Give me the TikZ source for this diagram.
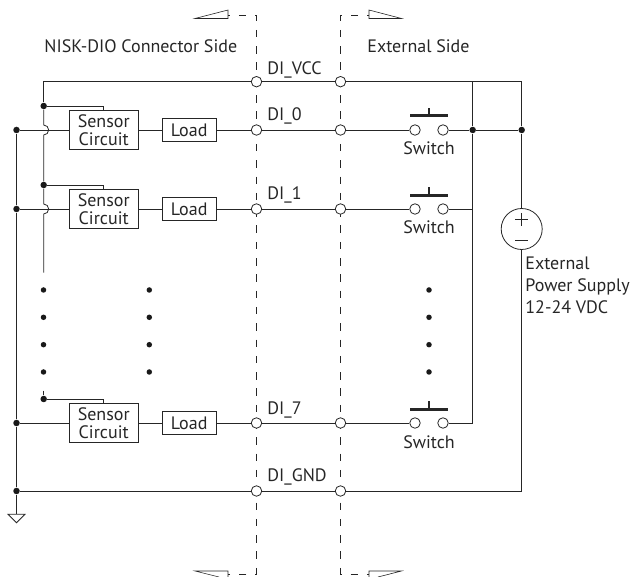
\documentclass[tikz,border=0pt]{standalone}
\usepackage{fontspec}
\setmainfont{PT Sans}

\begin{document}
\begin{tikzpicture}[x=1pt,y=-1pt,line width=0.8pt,color=black!85,font=\fontsize{18}{17.5}\selectfont]
  \tikzstyle{pin}=[circle,draw,fill=white,inner sep=0pt,minimum size=10.5pt]
  \tikzstyle{junction}=[circle,fill=black!90,inner sep=0pt,minimum size=6.5pt]
  \tikzstyle{ellipsis}=[circle,fill=black!90,inner sep=0pt,minimum size=5.5pt]
  \tikzstyle{sensorbox}=[draw,fill=white,align=center,inner sep=0pt,minimum width=68.5pt,minimum height=38.5pt]
  \tikzstyle{loadbox}=[draw,fill=white,inner sep=0pt,minimum width=54.5pt,minimum height=23pt]
  \tikzstyle{pushbar}=[line width=3pt]
  \tikzstyle{pushstem}=[line width=2pt]
  \tikzstyle{boundary}=[dash pattern=on 7.5pt off 8.8pt,dash phase=5.5pt,line width=0.6pt]
  \tikzstyle{breakmark}=[line width=0.6pt]
  \tikzstyle{thin sign}=[line width=0.5pt]
  \tikzstyle{caption}=[anchor=base west,inner sep=0pt]
  \tikzstyle{swlabel}=[anchor=base,inner sep=0pt]

  \useasboundingbox (0,0) rectangle (633,577);

  % break lines
  \coordinate (TL) at (256.5,15);
  \coordinate (BL) at (256.5,574);
  \coordinate (TR) at (340.5,15);
  \coordinate (BR) at (340.5,574);
  \draw[boundary] (228,15) -- (TL) -- (BL) -- (228,574);
  \draw[boundary] (369,15) -- (TR) -- (BR) -- (369,574);
  \draw[breakmark] (228,10) -- (195,18.5) -- (228,18.5) -- cycle;
  \draw[breakmark] (369,10) -- (401.5,18.5) -- (369,18.5) -- cycle;
  \draw[breakmark] (219,577) -- (195,571) -- (228,571) -- (228,577);
  \draw[breakmark] (378,577) -- (401.5,571) -- (369,571) -- (369,577);

  % pins
  \node[pin] (V1) at (256.5,81.7) {};
  \node[pin] (V2) at (340.5,81.7) {};
  \node[pin] (A1) at (256.5,130) {};
  \node[pin] (A2) at (340.5,130) {};
  \node[pin] (B1) at (256.5,209) {};
  \node[pin] (B2) at (340.5,209) {};
  \node[pin] (C1) at (256.5,423) {};
  \node[pin] (C2) at (340.5,423) {};
  \node[pin] (G1) at (256.5,491) {};
  \node[pin] (G2) at (340.5,491) {};

  % sensor and load
  \node[sensorbox] (SA) at (103.7,130) {Sensor\\Circuit};
  \node[loadbox]   (LA) at (189.2,130) {Load};
  \node[sensorbox] (SB) at (103.7,209) {Sensor\\Circuit};
  \node[loadbox]   (LB) at (189.2,209) {Load};
  \node[sensorbox] (SC) at (103.7,423) {Sensor\\Circuit};
  \node[loadbox]   (LC) at (189.2,423) {Load};

  % switches
  \node[pin] (KA1) at (415,130) {};
  \node[pin] (KA2) at (443,130) {};
  \node[pin] (KB1) at (415,209) {};
  \node[pin] (KB2) at (443,209) {};
  \node[pin] (KC1) at (415,423) {};
  \node[pin] (KC2) at (443,423) {};
  \draw[pushbar] (410,116) -- (448,116);
  \draw[pushbar] (410,195.3) -- (448,195.3);
  \draw[pushbar] (410,409.3) -- (448,409.3);
  \draw[pushstem] (429,116) -- (429,108);
  \draw[pushstem] (429,195.3) -- (429,187.3);
  \draw[pushstem] (429,409.3) -- (429,401);

  % supply
  \node[circle,draw,inner sep=0pt,minimum size=41pt] (PS) at (521.7,229) {};
  \draw[thin sign] (515.2,219.5) -- (528.2,219.5) (521.7,213) -- (521.7,226);
  \draw[thin sign] (515.2,240.5) -- (528.2,240.5);

  % junctions
  \node[junction] (GA) at (16.5,130) {};
  \node[junction] (GB) at (16.5,209) {};
  \node[junction] (GC) at (16.5,423) {};
  \node[junction] (GD) at (16.5,491) {};
  \node[junction] (PA) at (43.7,106) {};
  \node[junction] (PB) at (43.7,185) {};
  \node[junction] (PC) at (43.7,399) {};
  \node[junction] (RA) at (472.7,130) {};
  \node[junction] (RB) at (521.7,130) {};
  \coordinate (VL) at (43.7,81.7);
  \coordinate (VM) at (472.7,81.7);
  \coordinate (VR) at (521.7,81.7);
  \coordinate (RC) at (472.7,209);
  \coordinate (RD) at (472.7,423);
  \coordinate (GR) at (521.7,491);
  \coordinate (JA) at (43.7,125);
  \coordinate (JB) at (43.7,204);
  \coordinate (PD) at (43.7,272.7);
  \coordinate (PE) at (43.7,390.7);
  \coordinate (GE) at (16.5,514.3);

  % wires
  \draw (VR) -- (V2);
  \draw (V2) -- (V1);
  \draw (V1) -- (VL) -- (PA);
  \draw (PA) -- (JA) arc[start angle=90,end angle=-90,radius=5pt] -- (PB);
  \draw (PB) -- (JB) arc[start angle=90,end angle=-90,radius=5pt] -- (PD);
  \draw (PE) -- (PC);
  \draw (PA) -| (SA.north);
  \draw (PB) -| (SB.north);
  \draw (PC) -| (SC.north);

  \draw (GA) -- (SA);
  \draw (SA) -- (LA);
  \draw (LA) -- (A1);
  \draw (A1) -- (A2);
  \draw (A2) -- (KA1);
  \draw (KA2) -- (RA);
  \draw (RA) -- (RB);

  \draw (GB) -- (SB);
  \draw (SB) -- (LB);
  \draw (LB) -- (B1);
  \draw (B1) -- (B2);
  \draw (B2) -- (KB1);
  \draw (KB2) -- (RC);

  \draw (GC) -- (SC);
  \draw (SC) -- (LC);
  \draw (LC) -- (C1);
  \draw (C1) -- (C2);
  \draw (C2) -- (KC1);
  \draw (KC2) -- (RD);

  \draw (GA) -- (GB) -- (GC) -- (GD) -- (GE);
  \draw (GD) -- (G1);
  \draw (G1) -- (G2);
  \draw (G2) -- (GR) -- (PS);
  \draw (PS) -- (RB) -- (VR);
  \draw (VM) -- (RA) -- (RD);
  \draw (8,514.3) -- (25,514.3) -- (16.5,522.7) -- cycle;

  % omitted rows
  \node[ellipsis] (DA1) at (43.5,290) {};
  \node[ellipsis] (DA2) at (43.5,317.3) {};
  \node[ellipsis] (DA3) at (43.5,344.7) {};
  \node[ellipsis] (DA4) at (43.5,372) {};
  \node[ellipsis] (DB1) at (149.3,290) {};
  \node[ellipsis] (DB2) at (149.3,317.3) {};
  \node[ellipsis] (DB3) at (149.3,344.7) {};
  \node[ellipsis] (DB4) at (149.3,372) {};
  \node[ellipsis] (DC1) at (429,290) {};
  \node[ellipsis] (DC2) at (429,317.3) {};
  \node[ellipsis] (DC3) at (429,344.7) {};
  \node[ellipsis] (DC4) at (429,372) {};

  % labels
  \node[caption] (ND) at (44,53) {NISK-DIO Connector Side};
  \node[caption] (EX) at (367,53) {External Side};
  \node[caption] (NV) at (267,75) {DI\_VCC};
  \node[caption] (N0) at (267,121) {DI\_0};
  \node[caption] (N1) at (267,199.3) {DI\_1};
  \node[caption] (N7) at (267,415) {DI\_7};
  \node[caption] (NG) at (267,481.7) {DI\_GND};
  \node[swlabel] (WA) at (429,155) {Switch};
  \node[swlabel] (WB) at (429,233.3) {Switch};
  \node[swlabel] (WC) at (429,448.3) {Switch};
  \node[caption] (E1) at (525,270) {External};
  \node[caption] (E2) at (525,291.7) {Power Supply};
  \node[caption] (E3) at (525,314) {12-24 VDC};
\end{tikzpicture}
\end{document}
